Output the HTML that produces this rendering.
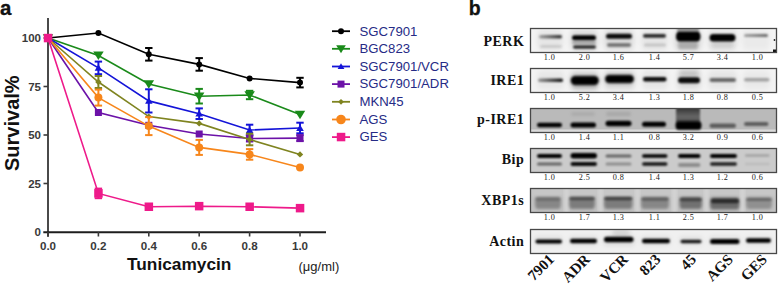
<!DOCTYPE html>
<html><head><meta charset="utf-8"><style>
html,body{margin:0;padding:0;background:#fff;}
body{width:778px;height:285px;overflow:hidden;position:relative;}
svg{position:absolute;left:0;top:0;}
</style></head><body>
<svg width="778" height="285" viewBox="0 0 778 285">
<defs>
<filter id="b1" x="-30%" y="-100%" width="160%" height="300%"><feGaussianBlur stdDeviation="1.2"/></filter>
<filter id="b2" x="-30%" y="-100%" width="160%" height="300%"><feGaussianBlur stdDeviation="2"/></filter>
<filter id="b3" x="-50%" y="-100%" width="200%" height="300%"><feGaussianBlur stdDeviation="3"/></filter>
</defs>

<text x="0" y="14.8" font-family="Liberation Sans" font-weight="bold" font-size="20.5" fill="#111" stroke="#111" stroke-width="0.3">a</text>
<text x="468.7" y="14.8" font-family="Liberation Sans" font-weight="bold" font-size="19.5" fill="#111" stroke="#111" stroke-width="0.3">b</text>
<line x1="48" y1="18" x2="48" y2="236.8" stroke="#4a4a4a" stroke-width="2"/>
<line x1="43.3" y1="232.2" x2="326" y2="232.2" stroke="#1e1e1e" stroke-width="1.9"/>
<line x1="43.5" y1="183.5" x2="48" y2="183.5" stroke="#3a3a3a" stroke-width="1.6"/>
<line x1="43.5" y1="135.0" x2="48" y2="135.0" stroke="#3a3a3a" stroke-width="1.6"/>
<line x1="43.5" y1="86.5" x2="48" y2="86.5" stroke="#3a3a3a" stroke-width="1.6"/>
<line x1="43.5" y1="38.0" x2="48" y2="38.0" stroke="#3a3a3a" stroke-width="1.6"/>
<line x1="48.0" y1="232" x2="48.0" y2="236.5" stroke="#3a3a3a" stroke-width="1.6"/>
<line x1="98.4" y1="232" x2="98.4" y2="236.5" stroke="#3a3a3a" stroke-width="1.6"/>
<line x1="148.8" y1="232" x2="148.8" y2="236.5" stroke="#3a3a3a" stroke-width="1.6"/>
<line x1="199.2" y1="232" x2="199.2" y2="236.5" stroke="#3a3a3a" stroke-width="1.6"/>
<line x1="249.6" y1="232" x2="249.6" y2="236.5" stroke="#3a3a3a" stroke-width="1.6"/>
<line x1="300.0" y1="232" x2="300.0" y2="236.5" stroke="#3a3a3a" stroke-width="1.6"/>
<text x="41" y="236.1" text-anchor="end" font-family="Liberation Sans" font-weight="bold" font-size="11.5" fill="#3a3a3a">0</text>
<text x="41" y="187.6" text-anchor="end" font-family="Liberation Sans" font-weight="bold" font-size="11.5" fill="#3a3a3a">25</text>
<text x="41" y="139.1" text-anchor="end" font-family="Liberation Sans" font-weight="bold" font-size="11.5" fill="#3a3a3a">50</text>
<text x="41" y="90.6" text-anchor="end" font-family="Liberation Sans" font-weight="bold" font-size="11.5" fill="#3a3a3a">75</text>
<text x="41" y="42.1" text-anchor="end" font-family="Liberation Sans" font-weight="bold" font-size="11.5" fill="#3a3a3a">100</text>
<text x="48.0" y="250.3" text-anchor="middle" font-family="Liberation Sans" font-weight="bold" font-size="11.6" fill="#3a3a3a">0.0</text>
<text x="98.4" y="250.3" text-anchor="middle" font-family="Liberation Sans" font-weight="bold" font-size="11.6" fill="#3a3a3a">0.2</text>
<text x="148.8" y="250.3" text-anchor="middle" font-family="Liberation Sans" font-weight="bold" font-size="11.6" fill="#3a3a3a">0.4</text>
<text x="199.2" y="250.3" text-anchor="middle" font-family="Liberation Sans" font-weight="bold" font-size="11.6" fill="#3a3a3a">0.6</text>
<text x="249.6" y="250.3" text-anchor="middle" font-family="Liberation Sans" font-weight="bold" font-size="11.6" fill="#3a3a3a">0.8</text>
<text x="300.0" y="250.3" text-anchor="middle" font-family="Liberation Sans" font-weight="bold" font-size="11.6" fill="#3a3a3a">1.0</text>
<text x="127" y="269.6" font-family="Liberation Sans" font-weight="bold" font-size="17.3" fill="#111">Tunicamycin</text>
<text x="298.5" y="271" font-family="Liberation Sans" font-size="13" fill="#222">(μg/ml)</text>
<text transform="translate(19.3,171) rotate(-90)" font-family="Liberation Sans" font-weight="bold" font-size="20" fill="#111">Survival%</text>
<polyline points="48.0,38.0 98.4,33.0 148.8,54.3 199.2,64.4 249.6,78.4 300.0,82.6" fill="none" stroke="#000000" stroke-width="1.6"/>
<circle cx="48.0" cy="38.0" r="3.00" fill="#000000"/>
<circle cx="98.4" cy="33.0" r="3.00" fill="#000000"/>
<line x1="148.8" y1="48.0" x2="148.8" y2="60.6" stroke="#000000" stroke-width="2"/>
<line x1="145.1" y1="48.0" x2="152.5" y2="48.0" stroke="#000000" stroke-width="2"/>
<line x1="145.1" y1="60.6" x2="152.5" y2="60.6" stroke="#000000" stroke-width="2"/>
<circle cx="148.8" cy="54.3" r="3.00" fill="#000000"/>
<line x1="199.2" y1="58.1" x2="199.2" y2="70.7" stroke="#000000" stroke-width="2"/>
<line x1="195.5" y1="58.1" x2="202.9" y2="58.1" stroke="#000000" stroke-width="2"/>
<line x1="195.5" y1="70.7" x2="202.9" y2="70.7" stroke="#000000" stroke-width="2"/>
<circle cx="199.2" cy="64.4" r="3.00" fill="#000000"/>
<circle cx="249.6" cy="78.4" r="3.00" fill="#000000"/>
<line x1="300.0" y1="77.8" x2="300.0" y2="87.4" stroke="#000000" stroke-width="2"/>
<line x1="296.3" y1="77.8" x2="303.7" y2="77.8" stroke="#000000" stroke-width="2"/>
<line x1="296.3" y1="87.4" x2="303.7" y2="87.4" stroke="#000000" stroke-width="2"/>
<circle cx="300.0" cy="82.6" r="3.00" fill="#000000"/>
<polyline points="48.0,38.0 98.4,55.5 148.8,84.0 199.2,96.2 249.6,95.0 300.0,114.6" fill="none" stroke="#1a8a1a" stroke-width="1.6"/>
<polygon points="42.8,34.2 53.2,34.2 48.0,42.7" fill="#1a8a1a"/>
<polygon points="93.2,51.6 103.7,51.6 98.4,60.1" fill="#1a8a1a"/>
<polygon points="143.6,80.2 154.1,80.2 148.8,88.7" fill="#1a8a1a"/>
<line x1="199.2" y1="88.9" x2="199.2" y2="103.5" stroke="#1a8a1a" stroke-width="2"/>
<line x1="195.5" y1="88.9" x2="202.9" y2="88.9" stroke="#1a8a1a" stroke-width="2"/>
<line x1="195.5" y1="103.5" x2="202.9" y2="103.5" stroke="#1a8a1a" stroke-width="2"/>
<polygon points="193.9,92.4 204.4,92.4 199.2,100.9" fill="#1a8a1a"/>
<line x1="249.6" y1="90.8" x2="249.6" y2="99.2" stroke="#1a8a1a" stroke-width="2"/>
<line x1="245.9" y1="90.8" x2="253.3" y2="90.8" stroke="#1a8a1a" stroke-width="2"/>
<line x1="245.9" y1="99.2" x2="253.3" y2="99.2" stroke="#1a8a1a" stroke-width="2"/>
<polygon points="244.4,91.2 254.9,91.2 249.6,99.7" fill="#1a8a1a"/>
<polygon points="294.8,110.8 305.2,110.8 300.0,119.3" fill="#1a8a1a"/>
<polyline points="48.0,38.0 98.4,67.9 148.8,100.9 199.2,113.7 249.6,130.0 300.0,128.0" fill="none" stroke="#1414d8" stroke-width="1.6"/>
<polygon points="44.2,40.9 51.8,40.9 48.0,34.4" fill="#1414d8"/>
<line x1="98.4" y1="61.6" x2="98.4" y2="74.2" stroke="#1414d8" stroke-width="2"/>
<line x1="94.7" y1="61.6" x2="102.1" y2="61.6" stroke="#1414d8" stroke-width="2"/>
<line x1="94.7" y1="74.2" x2="102.1" y2="74.2" stroke="#1414d8" stroke-width="2"/>
<polygon points="94.7,70.8 102.2,70.8 98.4,64.3" fill="#1414d8"/>
<line x1="148.8" y1="89.3" x2="148.8" y2="112.5" stroke="#1414d8" stroke-width="2"/>
<line x1="145.1" y1="89.3" x2="152.5" y2="89.3" stroke="#1414d8" stroke-width="2"/>
<line x1="145.1" y1="112.5" x2="152.5" y2="112.5" stroke="#1414d8" stroke-width="2"/>
<polygon points="145.1,103.8 152.6,103.8 148.8,97.3" fill="#1414d8"/>
<line x1="199.2" y1="108.4" x2="199.2" y2="119.0" stroke="#1414d8" stroke-width="2"/>
<line x1="195.5" y1="108.4" x2="202.9" y2="108.4" stroke="#1414d8" stroke-width="2"/>
<line x1="195.5" y1="119.0" x2="202.9" y2="119.0" stroke="#1414d8" stroke-width="2"/>
<polygon points="195.4,116.6 202.9,116.6 199.2,110.1" fill="#1414d8"/>
<line x1="249.6" y1="124.7" x2="249.6" y2="135.3" stroke="#1414d8" stroke-width="2"/>
<line x1="245.9" y1="124.7" x2="253.3" y2="124.7" stroke="#1414d8" stroke-width="2"/>
<line x1="245.9" y1="135.3" x2="253.3" y2="135.3" stroke="#1414d8" stroke-width="2"/>
<polygon points="245.9,132.9 253.4,132.9 249.6,126.4" fill="#1414d8"/>
<line x1="300.0" y1="122.7" x2="300.0" y2="133.3" stroke="#1414d8" stroke-width="2"/>
<line x1="296.3" y1="122.7" x2="303.7" y2="122.7" stroke="#1414d8" stroke-width="2"/>
<line x1="296.3" y1="133.3" x2="303.7" y2="133.3" stroke="#1414d8" stroke-width="2"/>
<polygon points="296.2,130.9 303.8,130.9 300.0,124.4" fill="#1414d8"/>
<polyline points="48.0,38.0 98.4,112.5 148.8,125.3 199.2,134.0 249.6,138.5 300.0,138.1" fill="none" stroke="#6c12a8" stroke-width="1.6"/>
<rect x="44.5" y="34.5" width="7.0" height="7.0" fill="#6c12a8"/>
<rect x="94.9" y="109.0" width="7.0" height="7.0" fill="#6c12a8"/>
<rect x="145.3" y="121.8" width="7.0" height="7.0" fill="#6c12a8"/>
<rect x="195.7" y="130.5" width="7.0" height="7.0" fill="#6c12a8"/>
<line x1="249.6" y1="135.5" x2="249.6" y2="141.5" stroke="#6c12a8" stroke-width="2"/>
<line x1="245.9" y1="135.5" x2="253.3" y2="135.5" stroke="#6c12a8" stroke-width="2"/>
<line x1="245.9" y1="141.5" x2="253.3" y2="141.5" stroke="#6c12a8" stroke-width="2"/>
<rect x="246.1" y="135.0" width="7.0" height="7.0" fill="#6c12a8"/>
<line x1="300.0" y1="135.1" x2="300.0" y2="141.1" stroke="#6c12a8" stroke-width="2"/>
<line x1="296.3" y1="135.1" x2="303.7" y2="135.1" stroke="#6c12a8" stroke-width="2"/>
<line x1="296.3" y1="141.1" x2="303.7" y2="141.1" stroke="#6c12a8" stroke-width="2"/>
<rect x="296.5" y="134.6" width="7.0" height="7.0" fill="#6c12a8"/>
<polyline points="48.0,38.0 98.4,82.0 148.8,116.6 199.2,123.4 249.6,139.5 300.0,154.4" fill="none" stroke="#7f8420" stroke-width="1.6"/>
<polygon points="48.0,34.8 51.2,38.0 48.0,41.2 44.8,38.0" fill="#7f8420"/>
<line x1="98.4" y1="76.0" x2="98.4" y2="88.0" stroke="#7f8420" stroke-width="2"/>
<line x1="94.7" y1="76.0" x2="102.1" y2="76.0" stroke="#7f8420" stroke-width="2"/>
<line x1="94.7" y1="88.0" x2="102.1" y2="88.0" stroke="#7f8420" stroke-width="2"/>
<polygon points="98.4,78.8 101.6,82.0 98.4,85.2 95.2,82.0" fill="#7f8420"/>
<polygon points="148.8,113.4 152.0,116.6 148.8,119.8 145.6,116.6" fill="#7f8420"/>
<polygon points="199.2,120.2 202.4,123.4 199.2,126.6 196.0,123.4" fill="#7f8420"/>
<line x1="249.6" y1="133.7" x2="249.6" y2="145.3" stroke="#7f8420" stroke-width="2"/>
<line x1="245.9" y1="133.7" x2="253.3" y2="133.7" stroke="#7f8420" stroke-width="2"/>
<line x1="245.9" y1="145.3" x2="253.3" y2="145.3" stroke="#7f8420" stroke-width="2"/>
<polygon points="249.6,136.3 252.8,139.5 249.6,142.7 246.4,139.5" fill="#7f8420"/>
<polygon points="300.0,151.2 303.2,154.4 300.0,157.6 296.8,154.4" fill="#7f8420"/>
<polyline points="48.0,38.0 98.4,97.6 148.8,126.1 199.2,147.4 249.6,154.4 300.0,167.4" fill="none" stroke="#f7861b" stroke-width="1.6"/>
<circle cx="48.0" cy="38.0" r="4.00" fill="#f7861b"/>
<line x1="98.4" y1="89.6" x2="98.4" y2="105.6" stroke="#f7861b" stroke-width="2"/>
<line x1="94.7" y1="89.6" x2="102.1" y2="89.6" stroke="#f7861b" stroke-width="2"/>
<line x1="94.7" y1="105.6" x2="102.1" y2="105.6" stroke="#f7861b" stroke-width="2"/>
<circle cx="98.4" cy="97.6" r="4.00" fill="#f7861b"/>
<line x1="148.8" y1="117.1" x2="148.8" y2="135.1" stroke="#f7861b" stroke-width="2"/>
<line x1="145.1" y1="117.1" x2="152.5" y2="117.1" stroke="#f7861b" stroke-width="2"/>
<line x1="145.1" y1="135.1" x2="152.5" y2="135.1" stroke="#f7861b" stroke-width="2"/>
<circle cx="148.8" cy="126.1" r="4.00" fill="#f7861b"/>
<line x1="199.2" y1="139.9" x2="199.2" y2="154.9" stroke="#f7861b" stroke-width="2"/>
<line x1="195.5" y1="139.9" x2="202.9" y2="139.9" stroke="#f7861b" stroke-width="2"/>
<line x1="195.5" y1="154.9" x2="202.9" y2="154.9" stroke="#f7861b" stroke-width="2"/>
<circle cx="199.2" cy="147.4" r="4.00" fill="#f7861b"/>
<line x1="249.6" y1="149.1" x2="249.6" y2="159.7" stroke="#f7861b" stroke-width="2"/>
<line x1="245.9" y1="149.1" x2="253.3" y2="149.1" stroke="#f7861b" stroke-width="2"/>
<line x1="245.9" y1="159.7" x2="253.3" y2="159.7" stroke="#f7861b" stroke-width="2"/>
<circle cx="249.6" cy="154.4" r="4.00" fill="#f7861b"/>
<circle cx="300.0" cy="167.4" r="4.00" fill="#f7861b"/>
<polyline points="48.0,38.0 98.4,193.4 148.8,206.8 199.2,206.2 249.6,206.8 300.0,208.1" fill="none" stroke="#ee1a8a" stroke-width="1.6"/>
<rect x="43.8" y="33.8" width="8.5" height="8.5" fill="#ee1a8a"/>
<line x1="98.4" y1="188.6" x2="98.4" y2="198.2" stroke="#ee1a8a" stroke-width="2"/>
<line x1="94.7" y1="188.6" x2="102.1" y2="188.6" stroke="#ee1a8a" stroke-width="2"/>
<line x1="94.7" y1="198.2" x2="102.1" y2="198.2" stroke="#ee1a8a" stroke-width="2"/>
<rect x="94.2" y="189.1" width="8.5" height="8.5" fill="#ee1a8a"/>
<rect x="144.6" y="202.5" width="8.5" height="8.5" fill="#ee1a8a"/>
<rect x="194.9" y="201.9" width="8.5" height="8.5" fill="#ee1a8a"/>
<rect x="245.4" y="202.5" width="8.5" height="8.5" fill="#ee1a8a"/>
<rect x="295.8" y="203.9" width="8.5" height="8.5" fill="#ee1a8a"/>
<line x1="332" y1="31.2" x2="350" y2="31.2" stroke="#000000" stroke-width="1.8"/>
<circle cx="341.0" cy="31.2" r="3.00" fill="#000000"/>
<text x="359.5" y="35.5" font-family="Liberation Sans" font-size="13.2" fill="#262b86">SGC7901</text>
<line x1="332" y1="48.8" x2="350" y2="48.8" stroke="#1a8a1a" stroke-width="1.8"/>
<polygon points="336.2,45.3 345.8,45.3 341.0,53.2" fill="#1a8a1a"/>
<text x="359.5" y="53.1" font-family="Liberation Sans" font-size="13.2" fill="#262b86">BGC823</text>
<line x1="332" y1="66.5" x2="350" y2="66.5" stroke="#1414d8" stroke-width="1.8"/>
<polygon points="337.6,69.1 344.4,69.1 341.0,63.3" fill="#1414d8"/>
<text x="359.5" y="70.8" font-family="Liberation Sans" font-size="13.2" fill="#262b86">SGC7901/VCR</text>
<line x1="332" y1="84.1" x2="350" y2="84.1" stroke="#6c12a8" stroke-width="1.8"/>
<rect x="337.5" y="80.6" width="7.0" height="7.0" fill="#6c12a8"/>
<text x="359.5" y="88.4" font-family="Liberation Sans" font-size="13.2" fill="#262b86">SGC7901/ADR</text>
<line x1="332" y1="101.8" x2="350" y2="101.8" stroke="#7f8420" stroke-width="1.8"/>
<polygon points="341.0,98.9 343.9,101.8 341.0,104.7 338.1,101.8" fill="#7f8420"/>
<text x="359.5" y="106.1" font-family="Liberation Sans" font-size="13.2" fill="#262b86">MKN45</text>
<line x1="332" y1="119.5" x2="350" y2="119.5" stroke="#f7861b" stroke-width="1.8"/>
<circle cx="341.0" cy="119.5" r="4.80" fill="#f7861b"/>
<text x="359.5" y="123.8" font-family="Liberation Sans" font-size="13.2" fill="#262b86">AGS</text>
<line x1="332" y1="137.1" x2="350" y2="137.1" stroke="#ee1a8a" stroke-width="1.8"/>
<rect x="336.8" y="132.8" width="8.5" height="8.5" fill="#ee1a8a"/>
<text x="359.5" y="141.4" font-family="Liberation Sans" font-size="13.2" fill="#262b86">GES</text>
<text x="524.3" y="45.5" text-anchor="end" font-family="Liberation Serif" font-weight="bold" font-size="14" letter-spacing="0.5" fill="#111">PERK</text>
<text x="524.3" y="85.2" text-anchor="end" font-family="Liberation Serif" font-weight="bold" font-size="14" letter-spacing="0.5" fill="#111">IRE1</text>
<text x="524.3" y="123.6" text-anchor="end" font-family="Liberation Serif" font-weight="bold" font-size="14" letter-spacing="0.5" fill="#111">p-IRE1</text>
<text x="524.3" y="163.8" text-anchor="end" font-family="Liberation Serif" font-weight="bold" font-size="14" letter-spacing="0.5" fill="#111">Bip</text>
<text x="524.3" y="205.3" text-anchor="end" font-family="Liberation Serif" font-weight="bold" font-size="14" letter-spacing="0.5" fill="#111">XBP1s</text>
<text x="524.3" y="245.6" text-anchor="end" font-family="Liberation Serif" font-weight="bold" font-size="14" letter-spacing="0.5" fill="#111">Actin</text>
<defs><filter id="f25" x="-20%" y="-200%" width="140%" height="500%"><feGaussianBlur stdDeviation="2.5"/></filter><filter id="f10" x="-20%" y="-200%" width="140%" height="500%"><feGaussianBlur stdDeviation="1.0"/></filter><filter id="f12" x="-20%" y="-200%" width="140%" height="500%"><feGaussianBlur stdDeviation="1.2"/></filter><filter id="f9" x="-20%" y="-200%" width="140%" height="500%"><feGaussianBlur stdDeviation="0.9"/></filter><filter id="f15" x="-20%" y="-200%" width="140%" height="500%"><feGaussianBlur stdDeviation="1.5"/></filter><filter id="f8" x="-20%" y="-200%" width="140%" height="500%"><feGaussianBlur stdDeviation="0.8"/></filter><filter id="f20" x="-20%" y="-200%" width="140%" height="500%"><feGaussianBlur stdDeviation="2.0"/></filter><filter id="f18" x="-20%" y="-200%" width="140%" height="500%"><feGaussianBlur stdDeviation="1.8"/></filter><filter id="f13" x="-20%" y="-200%" width="140%" height="500%"><feGaussianBlur stdDeviation="1.3"/></filter><filter id="f6" x="-20%" y="-200%" width="140%" height="500%"><feGaussianBlur stdDeviation="0.6"/></filter></defs><clipPath id="c0"><rect x="531" y="29" width="245" height="23"/></clipPath>
<clipPath id="c1"><rect x="531" y="69" width="245" height="23"/></clipPath>
<clipPath id="c2"><rect x="531" y="109" width="245" height="23"/></clipPath>
<clipPath id="c3"><rect x="531" y="149" width="245" height="23"/></clipPath>
<clipPath id="c4"><rect x="531" y="189" width="245" height="23"/></clipPath>
<clipPath id="c5"><rect x="531" y="230" width="245" height="23"/></clipPath>
<g clip-path="url(#c0)"><rect x="531" y="28" width="246" height="25" fill="#f4f4f4"/><rect x="537.0" y="30.0" width="26.0" height="20.0" rx="3.0" ry="10.0" fill="#000" fill-opacity="0.06" filter="url(#f25)"/><rect x="570.0" y="30.0" width="28.0" height="20.0" rx="3.0" ry="10.0" fill="#000" fill-opacity="0.10" filter="url(#f25)"/><rect x="604.0" y="30.0" width="30.0" height="20.0" rx="3.0" ry="10.0" fill="#000" fill-opacity="0.10" filter="url(#f25)"/><rect x="641.0" y="30.0" width="27.0" height="20.0" rx="3.0" ry="10.0" fill="#000" fill-opacity="0.06" filter="url(#f25)"/><rect x="674.0" y="30.0" width="28.0" height="20.0" rx="3.0" ry="10.0" fill="#000" fill-opacity="0.10" filter="url(#f25)"/><rect x="708.0" y="30.0" width="29.0" height="20.0" rx="3.0" ry="10.0" fill="#000" fill-opacity="0.07" filter="url(#f25)"/><rect x="742.0" y="30.0" width="28.0" height="20.0" rx="3.0" ry="10.0" fill="#000" fill-opacity="0.04" filter="url(#f25)"/><linearGradient id="g1" x1="0" x2="1" y1="0" y2="0"><stop offset="0" stop-opacity="0.30"/><stop offset="1" stop-opacity="0.80"/></linearGradient><rect x="539.0" y="34.9" width="23.0" height="3.5" rx="1.8" ry="1.8" fill="url(#g1)" filter="url(#f10)"/><rect x="540.0" y="45.0" width="22.0" height="3.0" rx="1.5" ry="1.5" fill="#000" fill-opacity="0.12" filter="url(#f12)"/><rect x="572.0" y="35.3" width="24.0" height="5.0" rx="2.5" ry="2.5" fill="#000" fill-opacity="1.00" filter="url(#f9)"/><rect x="572.0" y="41.0" width="24.0" height="3.0" rx="1.5" ry="1.5" fill="#000" fill-opacity="0.25" filter="url(#f12)"/><rect x="573.0" y="45.2" width="23.0" height="3.5" rx="1.8" ry="1.8" fill="#000" fill-opacity="0.80" filter="url(#f9)"/><rect x="606.0" y="33.8" width="26.0" height="5.0" rx="2.5" ry="2.5" fill="#000" fill-opacity="0.95" filter="url(#f9)"/><rect x="607.0" y="43.2" width="24.0" height="3.5" rx="1.8" ry="1.8" fill="#000" fill-opacity="0.50" filter="url(#f10)"/><rect x="643.0" y="33.9" width="23.0" height="3.8" rx="1.9" ry="1.9" fill="#000" fill-opacity="0.82" filter="url(#f10)"/><rect x="644.0" y="43.5" width="22.0" height="3.0" rx="1.5" ry="1.5" fill="#000" fill-opacity="0.15" filter="url(#f12)"/><rect x="677.0" y="27.5" width="22.0" height="4.0" rx="1.0" ry="2.0" fill="#000" fill-opacity="0.35" filter="url(#f10)"/><rect x="676.0" y="31.5" width="24.5" height="10.0" rx="3.0" ry="5.0" fill="#000" fill-opacity="1.00" filter="url(#f9)"/><rect x="678.0" y="41.5" width="20.0" height="8.0" rx="2.0" ry="4.0" fill="#000" fill-opacity="0.22" filter="url(#f15)"/><rect x="709.5" y="34.0" width="26.0" height="7.5" rx="3.8" ry="3.8" fill="#000" fill-opacity="1.00" filter="url(#f8)"/><rect x="711.0" y="42.0" width="23.0" height="6.0" rx="3.0" ry="3.0" fill="#000" fill-opacity="0.10" filter="url(#f20)"/><linearGradient id="g2" x1="0" x2="1" y1="0" y2="0"><stop offset="0" stop-opacity="0.30"/><stop offset="1" stop-opacity="0.55"/></linearGradient><rect x="744.0" y="33.9" width="24.0" height="3.2" rx="1.6" ry="1.6" fill="url(#g2)" filter="url(#f10)"/><circle cx="774.5" cy="40" r="0.9" fill="#222"/><rect x="773" y="49.5" width="4" height="3" fill="#111"/></g>
<g clip-path="url(#c1)"><rect x="531" y="68" width="246" height="25" fill="#f3f3f3"/><rect x="537.0" y="71.0" width="27.0" height="18.0" rx="3.0" ry="9.0" fill="#000" fill-opacity="0.05" filter="url(#f25)"/><rect x="570.0" y="71.0" width="29.0" height="18.0" rx="3.0" ry="9.0" fill="#000" fill-opacity="0.12" filter="url(#f25)"/><rect x="604.0" y="71.0" width="31.0" height="18.0" rx="3.0" ry="9.0" fill="#000" fill-opacity="0.12" filter="url(#f25)"/><rect x="642.0" y="71.0" width="26.0" height="18.0" rx="3.0" ry="9.0" fill="#000" fill-opacity="0.06" filter="url(#f25)"/><rect x="677.0" y="71.0" width="24.0" height="18.0" rx="3.0" ry="9.0" fill="#000" fill-opacity="0.10" filter="url(#f25)"/><rect x="708.0" y="71.0" width="29.0" height="18.0" rx="3.0" ry="9.0" fill="#000" fill-opacity="0.06" filter="url(#f25)"/><rect x="743.0" y="71.0" width="27.0" height="18.0" rx="3.0" ry="9.0" fill="#000" fill-opacity="0.04" filter="url(#f25)"/><rect x="570.0" y="75.0" width="29.5" height="11.0" rx="5.5" ry="5.5" fill="#000" fill-opacity="0.30" filter="url(#f15)"/><rect x="604.5" y="74.0" width="30.0" height="10.0" rx="5.0" ry="5.0" fill="#000" fill-opacity="0.30" filter="url(#f15)"/><linearGradient id="g3" x1="0" x2="1" y1="0" y2="0"><stop offset="0" stop-opacity="0.35"/><stop offset="1" stop-opacity="0.95"/></linearGradient><rect x="538.0" y="78.5" width="25.0" height="3.5" rx="1.8" ry="1.8" fill="url(#g3)" filter="url(#f10)"/><rect x="571.0" y="76.2" width="27.5" height="8.5" rx="4.2" ry="4.2" fill="#000" fill-opacity="1.00" filter="url(#f9)"/><rect x="572.0" y="84.5" width="26.0" height="5.0" rx="2.5" ry="2.5" fill="#000" fill-opacity="0.15" filter="url(#f20)"/><rect x="605.5" y="75.2" width="28.0" height="7.5" rx="3.8" ry="3.8" fill="#000" fill-opacity="1.00" filter="url(#f9)"/><rect x="643.0" y="77.0" width="23.5" height="4.5" rx="2.2" ry="2.2" fill="#000" fill-opacity="0.95" filter="url(#f9)"/><rect x="678.0" y="77.2" width="22.0" height="6.0" rx="3.0" ry="3.0" fill="#000" fill-opacity="0.95" filter="url(#f9)"/><rect x="679.0" y="69.5" width="20.0" height="7.0" rx="3.5" ry="3.5" fill="#000" fill-opacity="0.12" filter="url(#f20)"/><rect x="709.5" y="78.0" width="26.5" height="4.0" rx="2.0" ry="2.0" fill="#000" fill-opacity="0.55" filter="url(#f10)"/><rect x="744.0" y="78.0" width="25.5" height="3.5" rx="1.8" ry="1.8" fill="#000" fill-opacity="0.30" filter="url(#f10)"/></g>
<g clip-path="url(#c2)"><rect x="531" y="108" width="246" height="25" fill="#bababa"/><rect x="531" y="129.5" width="246" height="3" fill="#dadada" filter="url(#f6)"/><rect x="571.0" y="112.0" width="24.0" height="4.0" rx="2.0" ry="2.0" fill="#000" fill-opacity="0.08" filter="url(#f15)"/><rect x="606.0" y="112.0" width="25.0" height="4.0" rx="2.0" ry="2.0" fill="#000" fill-opacity="0.10" filter="url(#f15)"/><rect x="537.0" y="122.8" width="25.0" height="4.5" rx="2.2" ry="2.2" fill="#000" fill-opacity="1.00" filter="url(#f8)"/><rect x="570.5" y="122.5" width="25.5" height="5.0" rx="2.5" ry="2.5" fill="#000" fill-opacity="1.00" filter="url(#f8)"/><rect x="605.5" y="120.8" width="26.0" height="5.5" rx="2.8" ry="2.8" fill="#000" fill-opacity="1.00" filter="url(#f8)"/><rect x="642.0" y="121.8" width="24.0" height="5.0" rx="2.5" ry="2.5" fill="#000" fill-opacity="1.00" filter="url(#f9)"/><rect x="600.0" y="105.0" width="60.0" height="30.0" rx="15.0" ry="15.0" fill="#000" fill-opacity="0.00" filter="url(#f12)"/><linearGradient id="vg1" x1="0" x2="0" y1="0" y2="1"><stop offset="0" stop-opacity="0.75"/><stop offset="0.6" stop-opacity="0.45"/><stop offset="1" stop-opacity="0.6"/></linearGradient><rect x="676" y="107" width="24" height="16" rx="2" fill="url(#vg1)" filter="url(#f12)"/><rect x="675.5" y="121.2" width="26.0" height="8.5" rx="3.0" ry="4.2" fill="#000" fill-opacity="1.00" filter="url(#f8)"/><rect x="709.5" y="123.5" width="26.5" height="4.5" rx="2.2" ry="2.2" fill="#000" fill-opacity="0.50" filter="url(#f10)"/><rect x="744.0" y="122.0" width="24.5" height="4.0" rx="2.0" ry="2.0" fill="#000" fill-opacity="0.50" filter="url(#f10)"/></g>
<g clip-path="url(#c3)"><rect x="531" y="148" width="246" height="25" fill="#cbcbcb"/><rect x="537.0" y="153.9" width="25.0" height="4.2" rx="2.1" ry="2.1" fill="#000" fill-opacity="1.00" filter="url(#f8)"/><rect x="537.0" y="162.4" width="25.0" height="3.2" rx="1.6" ry="1.6" fill="#000" fill-opacity="0.50" filter="url(#f10)"/><rect x="570.5" y="153.1" width="26.5" height="5.5" rx="2.8" ry="2.8" fill="#000" fill-opacity="1.00" filter="url(#f8)"/><rect x="570.5" y="162.0" width="26.5" height="4.0" rx="2.0" ry="2.0" fill="#000" fill-opacity="0.95" filter="url(#f8)"/><rect x="605.5" y="154.4" width="26.0" height="3.2" rx="1.6" ry="1.6" fill="#000" fill-opacity="0.50" filter="url(#f10)"/><rect x="605.5" y="162.4" width="26.0" height="3.2" rx="1.6" ry="1.6" fill="#000" fill-opacity="0.30" filter="url(#f10)"/><rect x="642.0" y="154.2" width="25.5" height="3.5" rx="1.8" ry="1.8" fill="#000" fill-opacity="1.00" filter="url(#f8)"/><rect x="642.0" y="162.2" width="25.5" height="3.5" rx="1.8" ry="1.8" fill="#000" fill-opacity="0.90" filter="url(#f8)"/><rect x="678.0" y="154.0" width="22.5" height="4.0" rx="2.0" ry="2.0" fill="#000" fill-opacity="1.00" filter="url(#f8)"/><rect x="678.0" y="163.0" width="22.5" height="4.0" rx="2.0" ry="2.0" fill="#000" fill-opacity="0.30" filter="url(#f12)"/><rect x="710.0" y="153.9" width="27.0" height="4.2" rx="2.1" ry="2.1" fill="#000" fill-opacity="1.00" filter="url(#f8)"/><rect x="710.0" y="162.2" width="27.0" height="3.5" rx="1.8" ry="1.8" fill="#000" fill-opacity="0.85" filter="url(#f8)"/><rect x="745.0" y="154.2" width="24.5" height="2.5" rx="1.2" ry="1.2" fill="#000" fill-opacity="0.20" filter="url(#f10)"/><rect x="745.0" y="162.8" width="24.5" height="2.5" rx="1.2" ry="1.2" fill="#000" fill-opacity="0.08" filter="url(#f10)"/></g>
<g clip-path="url(#c4)"><rect x="531" y="188" width="246" height="25" fill="#c2c2c2"/><rect x="531" y="188" width="246" height="8" fill="#fff" fill-opacity="0.08" filter="url(#f15)"/><rect x="564" y="188" width="5" height="25" fill="#d3d3d3" filter="url(#f15)"/><rect x="598" y="188" width="5" height="25" fill="#d3d3d3" filter="url(#f15)"/><rect x="635" y="188" width="5" height="25" fill="#d3d3d3" filter="url(#f15)"/><rect x="672" y="188" width="5" height="25" fill="#d3d3d3" filter="url(#f15)"/><rect x="704" y="188" width="5" height="25" fill="#d3d3d3" filter="url(#f15)"/><rect x="740" y="188" width="5" height="25" fill="#d3d3d3" filter="url(#f15)"/><rect x="535.0" y="197.0" width="26.0" height="12.0" rx="2.0" ry="6.0" fill="#000" fill-opacity="0.30" filter="url(#f18)"/><rect x="535.0" y="197.0" width="26.0" height="4.0" rx="2.0" ry="2.0" fill="#000" fill-opacity="0.18" filter="url(#f13)"/><rect x="569.0" y="197.0" width="26.0" height="12.0" rx="2.0" ry="6.0" fill="#000" fill-opacity="0.36" filter="url(#f18)"/><rect x="569.0" y="196.8" width="26.0" height="3.5" rx="1.8" ry="1.8" fill="#000" fill-opacity="0.40" filter="url(#f12)"/><rect x="604.0" y="197.0" width="28.5" height="12.0" rx="2.0" ry="6.0" fill="#000" fill-opacity="0.36" filter="url(#f18)"/><rect x="604.0" y="196.8" width="28.5" height="3.5" rx="1.8" ry="1.8" fill="#000" fill-opacity="0.48" filter="url(#f12)"/><rect x="641.0" y="197.0" width="28.0" height="12.0" rx="2.0" ry="6.0" fill="#000" fill-opacity="0.30" filter="url(#f18)"/><rect x="641.0" y="197.2" width="28.0" height="3.5" rx="1.8" ry="1.8" fill="#000" fill-opacity="0.30" filter="url(#f12)"/><rect x="679.5" y="197.0" width="22.5" height="12.0" rx="2.0" ry="6.0" fill="#000" fill-opacity="0.42" filter="url(#f18)"/><rect x="679.5" y="197.8" width="22.5" height="3.5" rx="1.8" ry="1.8" fill="#000" fill-opacity="0.40" filter="url(#f12)"/><rect x="710.0" y="197.5" width="29.5" height="12.0" rx="2.0" ry="6.0" fill="#000" fill-opacity="0.45" filter="url(#f18)"/><rect x="711.0" y="198.8" width="28.0" height="4.5" rx="2.2" ry="2.2" fill="#000" fill-opacity="0.60" filter="url(#f12)"/><rect x="746.0" y="197.0" width="26.0" height="12.0" rx="2.0" ry="6.0" fill="#000" fill-opacity="0.26" filter="url(#f18)"/><rect x="746.0" y="198.0" width="26.0" height="3.0" rx="1.5" ry="1.5" fill="#000" fill-opacity="0.28" filter="url(#f12)"/></g>
<g clip-path="url(#c5)"><rect x="531" y="229" width="246" height="25" fill="#f0f0f0"/><rect x="534.0" y="236.0" width="29.0" height="10.0" rx="3.0" ry="5.0" fill="#000" fill-opacity="0.06" filter="url(#f20)"/><rect x="569.0" y="236.0" width="29.0" height="10.0" rx="3.0" ry="5.0" fill="#000" fill-opacity="0.06" filter="url(#f20)"/><rect x="603.0" y="236.0" width="32.0" height="10.0" rx="3.0" ry="5.0" fill="#000" fill-opacity="0.08" filter="url(#f20)"/><rect x="641.0" y="236.0" width="30.0" height="10.0" rx="3.0" ry="5.0" fill="#000" fill-opacity="0.06" filter="url(#f20)"/><rect x="679.0" y="236.0" width="24.0" height="10.0" rx="3.0" ry="5.0" fill="#000" fill-opacity="0.05" filter="url(#f20)"/><rect x="709.0" y="236.0" width="32.0" height="10.0" rx="3.0" ry="5.0" fill="#000" fill-opacity="0.06" filter="url(#f20)"/><rect x="745.0" y="236.0" width="27.0" height="10.0" rx="3.0" ry="5.0" fill="#000" fill-opacity="0.05" filter="url(#f20)"/><rect x="535.5" y="239.5" width="26.5" height="4.0" rx="2.0" ry="2.0" fill="#000" fill-opacity="1.00" filter="url(#f8)"/><rect x="570.0" y="238.8" width="27.0" height="4.5" rx="2.2" ry="2.2" fill="#000" fill-opacity="1.00" filter="url(#f8)"/><rect x="604.0" y="236.8" width="29.5" height="5.5" rx="2.8" ry="2.8" fill="#000" fill-opacity="1.00" filter="url(#f8)"/><rect x="612.0" y="229.5" width="18.0" height="7.0" rx="3.5" ry="3.5" fill="#000" fill-opacity="0.12" filter="url(#f20)"/><rect x="642.0" y="238.8" width="28.0" height="4.5" rx="2.2" ry="2.2" fill="#000" fill-opacity="1.00" filter="url(#f8)"/><rect x="680.5" y="239.8" width="21.0" height="3.5" rx="1.8" ry="1.8" fill="#000" fill-opacity="0.90" filter="url(#f8)"/><rect x="710.0" y="239.0" width="29.5" height="5.0" rx="2.5" ry="2.5" fill="#000" fill-opacity="1.00" filter="url(#f8)"/><rect x="746.0" y="238.2" width="25.0" height="4.5" rx="2.2" ry="2.2" fill="#000" fill-opacity="1.00" filter="url(#f8)"/></g>
<rect x="530.5" y="28.5" width="246.0" height="24" fill="none" stroke="#484848" stroke-width="1.3"/>
<rect x="530.5" y="68.5" width="246.0" height="24" fill="none" stroke="#484848" stroke-width="1.3"/>
<rect x="530.5" y="108.5" width="246.0" height="24" fill="none" stroke="#484848" stroke-width="1.3"/>
<rect x="530.5" y="148.5" width="246.0" height="24" fill="none" stroke="#484848" stroke-width="1.3"/>
<rect x="530.5" y="188.5" width="246.0" height="24" fill="none" stroke="#484848" stroke-width="1.3"/>
<rect x="530.5" y="229.5" width="246.0" height="24" fill="none" stroke="#484848" stroke-width="1.3"/>
<text x="549.5" y="59.6" text-anchor="middle" font-family="Liberation Serif" font-size="8.2" letter-spacing="0.5" fill="#222">1.0</text>
<text x="584.5" y="59.6" text-anchor="middle" font-family="Liberation Serif" font-size="8.2" letter-spacing="0.5" fill="#222">2.0</text>
<text x="618.5" y="59.6" text-anchor="middle" font-family="Liberation Serif" font-size="8.2" letter-spacing="0.5" fill="#222">1.6</text>
<text x="654.5" y="59.6" text-anchor="middle" font-family="Liberation Serif" font-size="8.2" letter-spacing="0.5" fill="#222">1.4</text>
<text x="688.5" y="59.6" text-anchor="middle" font-family="Liberation Serif" font-size="8.2" letter-spacing="0.5" fill="#222">5.7</text>
<text x="722.5" y="59.6" text-anchor="middle" font-family="Liberation Serif" font-size="8.2" letter-spacing="0.5" fill="#222">3.4</text>
<text x="757.5" y="59.6" text-anchor="middle" font-family="Liberation Serif" font-size="8.2" letter-spacing="0.5" fill="#222">1.0</text>
<text x="549.5" y="99.6" text-anchor="middle" font-family="Liberation Serif" font-size="8.2" letter-spacing="0.5" fill="#222">1.0</text>
<text x="584.5" y="99.6" text-anchor="middle" font-family="Liberation Serif" font-size="8.2" letter-spacing="0.5" fill="#222">5.2</text>
<text x="618.5" y="99.6" text-anchor="middle" font-family="Liberation Serif" font-size="8.2" letter-spacing="0.5" fill="#222">3.4</text>
<text x="654.5" y="99.6" text-anchor="middle" font-family="Liberation Serif" font-size="8.2" letter-spacing="0.5" fill="#222">1.3</text>
<text x="688.5" y="99.6" text-anchor="middle" font-family="Liberation Serif" font-size="8.2" letter-spacing="0.5" fill="#222">1.8</text>
<text x="722.5" y="99.6" text-anchor="middle" font-family="Liberation Serif" font-size="8.2" letter-spacing="0.5" fill="#222">0.8</text>
<text x="757.5" y="99.6" text-anchor="middle" font-family="Liberation Serif" font-size="8.2" letter-spacing="0.5" fill="#222">0.5</text>
<text x="549.5" y="139.6" text-anchor="middle" font-family="Liberation Serif" font-size="8.2" letter-spacing="0.5" fill="#222">1.0</text>
<text x="584.5" y="139.6" text-anchor="middle" font-family="Liberation Serif" font-size="8.2" letter-spacing="0.5" fill="#222">1.4</text>
<text x="618.5" y="139.6" text-anchor="middle" font-family="Liberation Serif" font-size="8.2" letter-spacing="0.5" fill="#222">1.1</text>
<text x="654.5" y="139.6" text-anchor="middle" font-family="Liberation Serif" font-size="8.2" letter-spacing="0.5" fill="#222">0.8</text>
<text x="688.5" y="139.6" text-anchor="middle" font-family="Liberation Serif" font-size="8.2" letter-spacing="0.5" fill="#222">3.2</text>
<text x="722.5" y="139.6" text-anchor="middle" font-family="Liberation Serif" font-size="8.2" letter-spacing="0.5" fill="#222">0.9</text>
<text x="757.5" y="139.6" text-anchor="middle" font-family="Liberation Serif" font-size="8.2" letter-spacing="0.5" fill="#222">0.6</text>
<text x="549.5" y="179.6" text-anchor="middle" font-family="Liberation Serif" font-size="8.2" letter-spacing="0.5" fill="#222">1.0</text>
<text x="584.5" y="179.6" text-anchor="middle" font-family="Liberation Serif" font-size="8.2" letter-spacing="0.5" fill="#222">2.5</text>
<text x="618.5" y="179.6" text-anchor="middle" font-family="Liberation Serif" font-size="8.2" letter-spacing="0.5" fill="#222">0.8</text>
<text x="654.5" y="179.6" text-anchor="middle" font-family="Liberation Serif" font-size="8.2" letter-spacing="0.5" fill="#222">1.4</text>
<text x="688.5" y="179.6" text-anchor="middle" font-family="Liberation Serif" font-size="8.2" letter-spacing="0.5" fill="#222">1.3</text>
<text x="722.5" y="179.6" text-anchor="middle" font-family="Liberation Serif" font-size="8.2" letter-spacing="0.5" fill="#222">1.2</text>
<text x="757.5" y="179.6" text-anchor="middle" font-family="Liberation Serif" font-size="8.2" letter-spacing="0.5" fill="#222">0.6</text>
<text x="549.5" y="219.6" text-anchor="middle" font-family="Liberation Serif" font-size="8.2" letter-spacing="0.5" fill="#222">1.0</text>
<text x="584.5" y="219.6" text-anchor="middle" font-family="Liberation Serif" font-size="8.2" letter-spacing="0.5" fill="#222">1.7</text>
<text x="618.5" y="219.6" text-anchor="middle" font-family="Liberation Serif" font-size="8.2" letter-spacing="0.5" fill="#222">1.3</text>
<text x="654.5" y="219.6" text-anchor="middle" font-family="Liberation Serif" font-size="8.2" letter-spacing="0.5" fill="#222">1.1</text>
<text x="688.5" y="219.6" text-anchor="middle" font-family="Liberation Serif" font-size="8.2" letter-spacing="0.5" fill="#222">2.5</text>
<text x="722.5" y="219.6" text-anchor="middle" font-family="Liberation Serif" font-size="8.2" letter-spacing="0.5" fill="#222">1.7</text>
<text x="757.5" y="219.6" text-anchor="middle" font-family="Liberation Serif" font-size="8.2" letter-spacing="0.5" fill="#222">1.0</text>
<text transform="translate(555.0,260.3) rotate(-45)" text-anchor="end" font-family="Liberation Serif" font-weight="bold" font-size="15" fill="#111">7901</text>
<text transform="translate(591.0,260.3) rotate(-45)" text-anchor="end" font-family="Liberation Serif" font-weight="bold" font-size="15" fill="#111">ADR</text>
<text transform="translate(629.0,260.3) rotate(-45)" text-anchor="end" font-family="Liberation Serif" font-weight="bold" font-size="15" fill="#111">VCR</text>
<text transform="translate(661.5,260.3) rotate(-45)" text-anchor="end" font-family="Liberation Serif" font-weight="bold" font-size="15" fill="#111">823</text>
<text transform="translate(697.0,260.3) rotate(-45)" text-anchor="end" font-family="Liberation Serif" font-weight="bold" font-size="15" fill="#111">45</text>
<text transform="translate(734.0,260.3) rotate(-45)" text-anchor="end" font-family="Liberation Serif" font-weight="bold" font-size="15" fill="#111">AGS</text>
<text transform="translate(768.0,260.3) rotate(-45)" text-anchor="end" font-family="Liberation Serif" font-weight="bold" font-size="15" fill="#111">GES</text>
</svg></body></html>
